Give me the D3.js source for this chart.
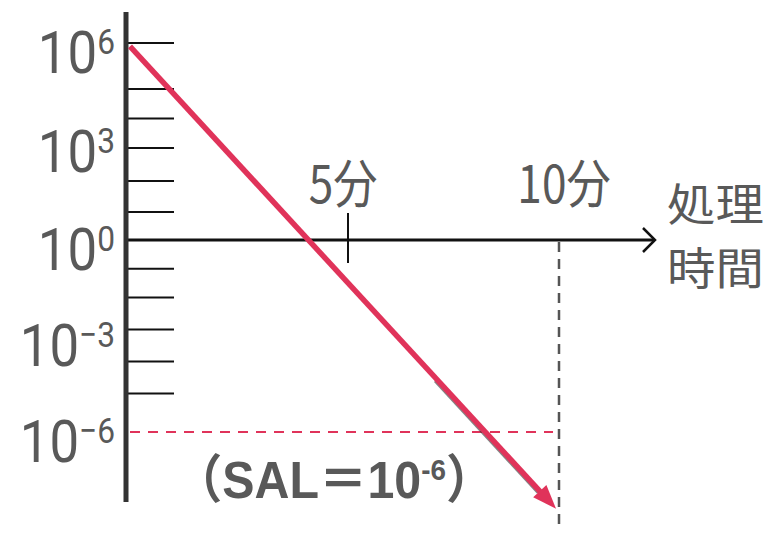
<!DOCTYPE html>
<html>
<head>
<meta charset="utf-8">
<script src="https://cdn.jsdelivr.net/npm/d3@7"></script>
<style>
  body { margin: 0; background: #fff; }
</style>
</head>
<body>
<svg id="chart" width="779" height="535"></svg>
<script>
// survival curve: treatment time (min) vs log10 of surviving count
const killTimes = [0, 9.93];
const killLogN = [5.9, -8.4];
// y ticks as log10 exponents
const yTickExps = [6, 4.6, 3.7, 2.8, 1.8, 0.85, -0.9, -1.8, -2.8, -3.8, -4.8];
const yLabelExps = [6, 3, 0, -3, -6];
const yLabelSup = ["6", "3", "0", "\u22123", "\u22126"];
const xTickMinutes = [5, 10];
const xTickLabels = ["5分", "10分"];
const salExp = -6;
const axisTitle = ["処理", "時間"];

const red = "#e0335a";
const gray = "#595959";

const svg = d3.select("#chart");

const x = d3.scaleLinear().domain([0, 5, 10]).range([126, 348, 559]);
const y = d3.scaleLinear().domain([-6, 0, 6]).range([432, 240, 43]);

// y ticks
svg.selectAll(".ytick").data(yTickExps).join("line")
  .attr("class", "ytick")
  .attr("x1", x(0) + 2).attr("x2", x(0) + 48)
  .attr("y1", d => y(d)).attr("y2", d => y(d))
  .attr("stroke", "#111").attr("stroke-width", 2);

// SAL level, dashed red
svg.append("line")
  .attr("x1", x(0) + 4).attr("x2", x(10) - 6)
  .attr("y1", y(salExp)).attr("y2", y(salExp))
  .attr("stroke", red).attr("stroke-width", 2.2)
  .attr("stroke-dasharray", "10,8");

// 10 min dashed guide
svg.append("line")
  .attr("x1", x(10)).attr("x2", x(10))
  .attr("y1", y(0) + 2).attr("y2", 530)
  .attr("stroke", "#555").attr("stroke-width", 2.5)
  .attr("stroke-dasharray", "10,7");

// x axis with open arrow
const xEnd = 655;
svg.append("line")
  .attr("x1", x(0)).attr("x2", xEnd)
  .attr("y1", y(0)).attr("y2", y(0))
  .attr("stroke", "#111").attr("stroke-width", 3);
svg.append("path")
  .attr("d", `M${xEnd - 12},${y(0) - 12}L${xEnd},${y(0)}L${xEnd - 12},${y(0) + 12}`)
  .attr("fill", "none").attr("stroke", "#111").attr("stroke-width", 2.5);

// 5 min tick
svg.append("line")
  .attr("x1", x(5)).attr("x2", x(5))
  .attr("y1", y(0) - 27).attr("y2", y(0) + 23)
  .attr("stroke", "#111").attr("stroke-width", 2);

// y axis
svg.append("line")
  .attr("x1", x(0)).attr("x2", x(0))
  .attr("y1", 12).attr("y2", 502)
  .attr("stroke", "#333").attr("stroke-width", 5);

// kill curve with arrow head
const p0 = [x(killTimes[0]) + 4, y(killLogN[0])];
const p1 = [x(killTimes[1]), y(killLogN[1])];
const dx = p1[0] - p0[0], dy = p1[1] - p0[1];
const len = Math.hypot(dx, dy);
const ux = dx / len, uy = dy / len;
const headLen = 24, headW = 9;
const base = [p1[0] - ux * headLen, p1[1] - uy * headLen];
// faint dark edge under the lower part of the arrow
svg.append("line")
  .attr("x1", p0[0] + dx * 0.72 - 2).attr("y1", p0[1] + dy * 0.72 + 2)
  .attr("x2", base[0] - 2).attr("y2", base[1] + 2)
  .attr("stroke", "#333").attr("stroke-width", 2).attr("opacity", 0.6);
svg.append("line")
  .attr("x1", p0[0]).attr("y1", p0[1])
  .attr("x2", base[0] + ux * 4).attr("y2", base[1] + uy * 4)
  .attr("stroke", red).attr("stroke-width", 5.5);
svg.append("path")
  .attr("d", `M${p1[0]},${p1[1]}L${base[0] - uy * headW},${base[1] + ux * headW}L${base[0] + uy * headW},${base[1] - ux * headW}Z`)
  .attr("fill", red);

// y labels 10^n
const yl = svg.selectAll(".ylab").data(yLabelExps).join("text")
  .attr("class", "ylab")
  .attr("transform", d => `translate(115,${y(d) + 30}) scale(0.88,1)`)
  .attr("text-anchor", "end")
  .attr("font-family", "Roboto, sans-serif")
  .attr("fill", gray);
yl.append("tspan").attr("font-size", 60).text("10");
yl.append("tspan").attr("font-size", 36).attr("dy", -19)
  .text((d, i) => yLabelSup[i]);

// x tick labels
svg.selectAll(".xlab").data(xTickMinutes).join("text")
  .attr("class", "xlab")
  .attr("transform", d => `translate(${x(d) - (d === 5 ? 5 : -5)},203) scale(0.85,1)`)
  .attr("text-anchor", "middle")
  .attr("font-family", "'Noto Sans CJK JP', sans-serif")
  .attr("font-size", 52)
  .attr("fill", gray)
  .text((d, i) => xTickLabels[i]);

// axis title, two lines
svg.selectAll(".xtitle").data(axisTitle).join("text")
  .attr("class", "xtitle")
  .attr("transform", (d, i) => `translate(667,${221 + i * 64}) scale(1.1,1)`)
  .attr("font-family", "'Noto Sans CJK JP', sans-serif")
  .attr("font-size", 44)
  .attr("fill", gray)
  .text(d => d);

// SAL note
const sal = svg.append("text")
  .attr("transform", "translate(174,498) scale(0.93,1)")
  .attr("font-family", "'Liberation Sans', 'Noto Sans CJK JP', sans-serif")
  .attr("font-weight", "bold")
  .attr("fill", gray);
sal.append("tspan").attr("font-size", 52).text("（SAL＝10");
sal.append("tspan").attr("font-size", 30).attr("dy", -18).text(String(salExp));
sal.append("tspan").attr("font-size", 52).attr("dy", 18).text("）");
</script>
</body>
</html>
